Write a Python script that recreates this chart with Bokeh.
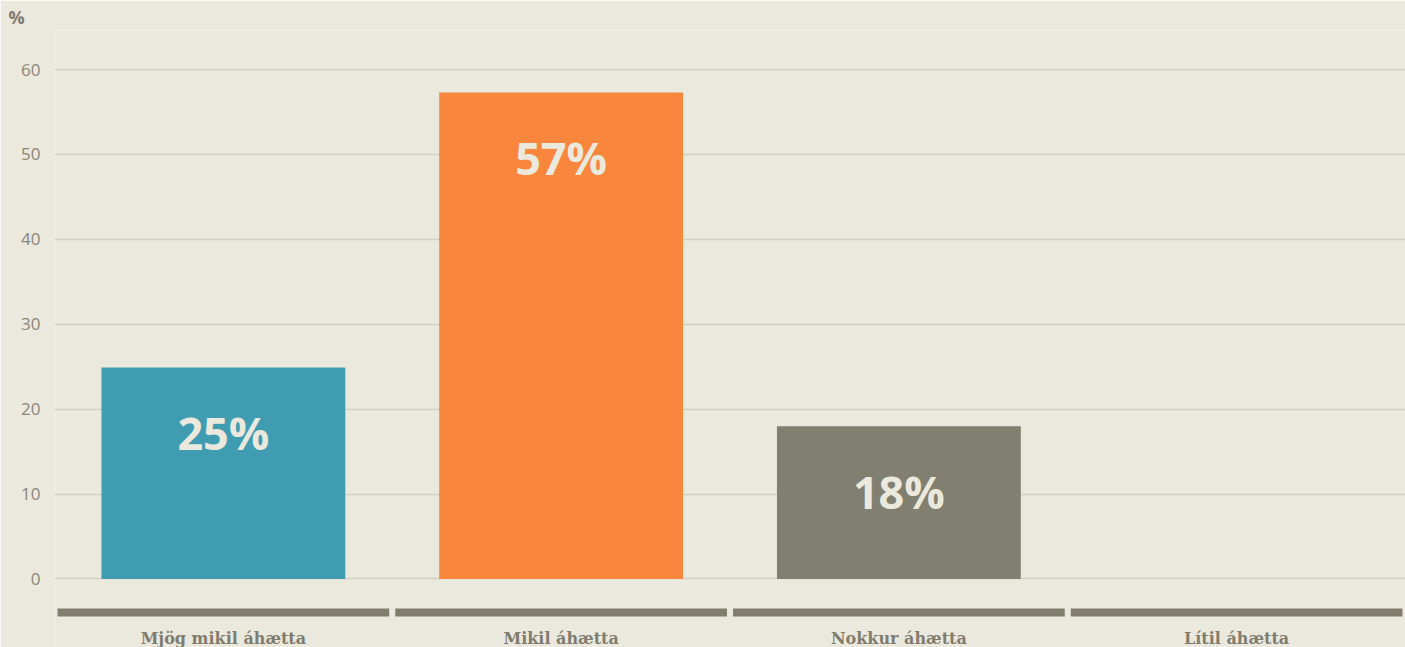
from bokeh.plotting import figure
from bokeh.models import Range1d, FactorRange, FixedTicker
from bokeh.core.properties import value
from bokeh.embed import file_html
from bokeh.resources import INLINE

categories = ["Mjög mikil áhætta", "Mikil áhætta", "Nokkur áhætta", "Lítil áhætta"]
values = [24.9, 57.3, 18.0, 0.0]
value_labels = ["25%", "57%", "18%", ""]
bar_colors = ["#409DB1", "#F8873D", "#817F6F", "#817F6F"]
y_ticks = [0, 10, 20, 30, 40, 50, 60]
unit_label = "%"

BG = "#EBE8DE"
GREY = "#807D6E"

p = figure(
    x_range=FactorRange(*categories),
    y_range=Range1d(-8.07, 64.6),
    width=1405, height=647,
    output_backend="svg", toolbar_location=None,
    x_axis_location=None,
    title=unit_label, title_location="above",
    min_border_left=54, min_border_right=0, min_border_top=30, min_border_bottom=0,
)
p.background_fill_color = BG
p.border_fill_color = BG
p.outline_line_color = None

p.title.align = "left"
p.title.offset = -46
p.title.standoff = 4
p.title.text_font = "Open Sans"
p.title.text_font_style = "bold"
p.title.text_font_size = "18px"
p.title.text_color = GREY

p.xgrid.grid_line_color = None
p.ygrid.ticker = FixedTicker(ticks=y_ticks)
p.ygrid.grid_line_color = "#D2CFC4"
p.ygrid.grid_line_width = 1.5

ax = p.yaxis[0]
ax.ticker = FixedTicker(ticks=y_ticks)
ax.axis_line_color = None
ax.major_tick_line_color = None
ax.minor_tick_line_color = None
ax.major_tick_out = 0
ax.major_label_standoff = 14
ax.major_label_text_font = "Open Sans"
ax.major_label_text_font_size = "17px"
ax.major_label_text_color = "#8A8778"

p.vbar(x=categories, top=values, bottom=0, width=0.722, color=bar_colors, line_color=None)

p.text(x=categories, y=values, text=value_labels, y_offset=65,
       text_align="center", text_baseline="middle",
       text_font=value("Open Sans"), text_font_style="bold",
       text_font_size="45px", text_color=BG)

p.rect(x=categories, y=-3.95, width=0.982, height=8, height_units="screen",
       color=GREY, line_color=None)

p.text(x=categories, y=-7.0, text=categories,
       text_align="center", text_baseline="middle",
       text_font=value("DejaVu Serif"), text_font_style="bold",
       text_font_size="16px", text_color=GREY)

open("out.html", "w").write(file_html(p, INLINE))
